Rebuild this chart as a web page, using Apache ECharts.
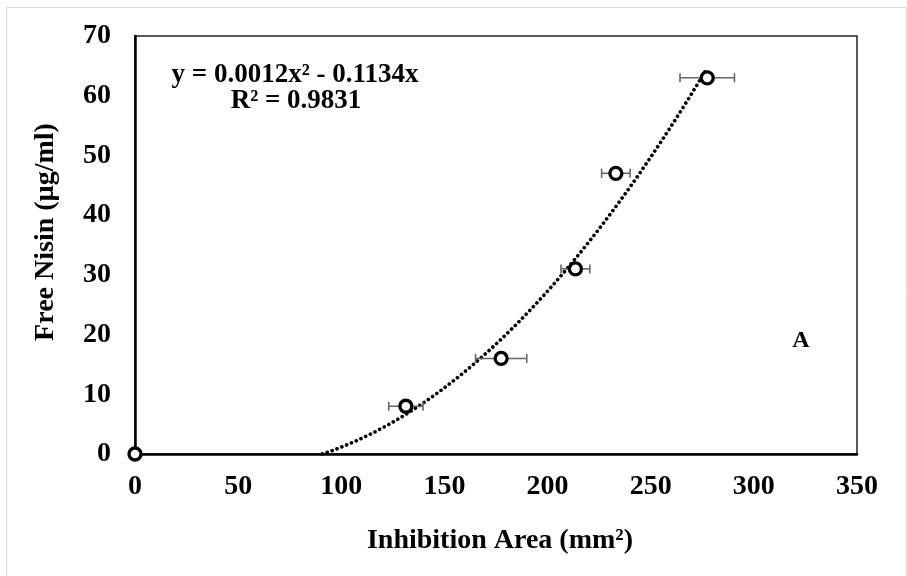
<!DOCTYPE html>
<html>
<head>
<meta charset="utf-8">
<script src="https://cdn.jsdelivr.net/npm/echarts@6/dist/echarts.min.js"></script>
<style>
  html, body { margin: 0; padding: 0; background: #fff; }
  #chart { width: 907px; height: 576px; }
</style>
</head>
<body>
<div id="chart"></div>
<script>
// Inhibition area (mm²) against free nisin concentration (µg/ml)
var areaValues  = [0, 131.3, 177.5, 213.5, 233.1, 277.4];
var nisinValues = [0, 8, 16, 31, 47, 63];
var areaErrors  = [0, 8.3, 12.4, 7.0, 6.9, 13.2];

// Polynomial trendline (order 2, intercept fixed at 0): y = a·x² + b·x
var trendCoefA = 0.001249;
var trendCoefB = -0.1134;
var trendR2 = 0.9831;

var xTicks = [0, 50, 100, 150, 200, 250, 300, 350];
var yTicks = [0, 10, 20, 30, 40, 50, 60, 70];

var FONT = "'Liberation Serif', 'Times New Roman', serif";

var points = areaValues.map(function (x, i) { return [x, nisinValues[i]]; });
var errorData = areaValues.map(function (x, i) { return [x, nisinValues[i], areaErrors[i]]; });

// trendline sampled where the fitted curve is non-negative, up to the last area value
var trendStart = -trendCoefB / trendCoefA;
var trendEnd = Math.max.apply(null, areaValues);
var trendLine = [];
var steps = 80;
for (var k = 0; k <= steps; k++) {
  var xv = trendStart + (trendEnd - trendStart) * k / steps;
  trendLine.push([xv, trendCoefA * xv * xv + trendCoefB * xv]);
}

var eqText = 'y = ' + trendCoefA.toFixed(4) + 'x² - ' + Math.abs(trendCoefB).toFixed(4) + 'x';
var r2Text = 'R² = ' + trendR2.toFixed(4);

var chart = echarts.init(document.getElementById('chart'));

chart.setOption({
  backgroundColor: '#fff',
  animation: false,
  grid: {
    left: 135, top: 36, right: 50, bottom: 122,
    outerBoundsMode: 'none',
    show: true,
    borderColor: '#222',
    borderWidth: 1.5,
    backgroundColor: 'transparent'
  },
  xAxis: {
    type: 'value',
    min: xTicks[0], max: xTicks[xTicks.length - 1], interval: xTicks[1] - xTicks[0],
    axisLine: { show: true, onZero: false, lineStyle: { color: '#000', width: 2.5 } },
    axisTick: { show: false },
    splitLine: { show: false },
    axisLabel: { margin: 19, color: '#000', fontFamily: FONT, fontWeight: 'bold', fontSize: 28 }
  },
  yAxis: {
    type: 'value',
    min: yTicks[0], max: yTicks[yTicks.length - 1], interval: yTicks[1] - yTicks[0],
    axisLine: { show: true, onZero: false, lineStyle: { color: '#000', width: 2.5 } },
    axisTick: { show: false },
    splitLine: { show: false },
    axisLabel: { margin: 24, color: '#000', fontFamily: FONT, fontWeight: 'bold', fontSize: 28 }
  },
  graphic: [
    {
      type: 'rect', silent: true, z: -10,
      shape: { x: 6.5, y: 7.5, width: 899.5, height: 600 },
      style: { fill: 'none', stroke: '#d9d9d9', lineWidth: 1 }
    },
    {
      type: 'text', silent: true,
      x: 500, y: 541,
      style: {
        text: 'Inhibition Area (mm²)', fill: '#000',
        font: 'bold 28px ' + FONT, align: 'center', verticalAlign: 'middle'
      }
    },
    {
      type: 'text', silent: true,
      x: 46, y: 232, rotation: Math.PI / 2,
      style: {
        text: 'Free Nisin (µg/ml)', fill: '#000',
        font: 'bold 28px ' + FONT, align: 'center', verticalAlign: 'middle'
      }
    },
    {
      type: 'text', silent: true,
      x: 295, y: 75,
      style: {
        text: eqText, fill: '#000',
        font: 'bold 27px ' + FONT, align: 'center', verticalAlign: 'middle'
      }
    },
    {
      type: 'text', silent: true,
      x: 296, y: 101,
      style: {
        text: r2Text, fill: '#000',
        font: 'bold 27px ' + FONT, align: 'center', verticalAlign: 'middle'
      }
    },
    {
      type: 'text', silent: true,
      x: 801, y: 341,
      style: {
        text: 'A', fill: '#000',
        font: 'bold 24px ' + FONT, align: 'center', verticalAlign: 'middle'
      }
    }
  ],
  series: [
    {
      name: 'trend',
      type: 'line',
      data: trendLine,
      showSymbol: false,
      smooth: false,
      z: 3,
      lineStyle: { color: '#000', width: 3.6, type: [0.1, 5.1], cap: 'round' }
    },
    {
      name: 'error',
      type: 'custom',
      data: errorData,
      z: 4,
      renderItem: function (params, api) {
        var x = api.value(0), y = api.value(1), e = api.value(2);
        if (!e) return null;
        var p1 = api.coord([x - e, y]);
        var p2 = api.coord([x + e, y]);
        var h = 4.5;
        var st = { stroke: '#666', lineWidth: 1.6 };
        return {
          type: 'group',
          children: [
            { type: 'line', shape: { x1: p1[0], y1: p1[1], x2: p2[0], y2: p2[1] }, style: st },
            { type: 'line', shape: { x1: p1[0], y1: p1[1] - h, x2: p1[0], y2: p1[1] + h }, style: st },
            { type: 'line', shape: { x1: p2[0], y1: p2[1] - h, x2: p2[0], y2: p2[1] + h }, style: st }
          ]
        };
      }
    },
    {
      name: 'data',
      type: 'scatter',
      data: points,
      symbol: 'circle',
      symbolSize: 12,
      clip: false,
      z: 5,
      itemStyle: { color: '#fff', borderColor: '#000', borderWidth: 3.3, opacity: 1 }
    }
  ]
});
</script>
</body>
</html>
